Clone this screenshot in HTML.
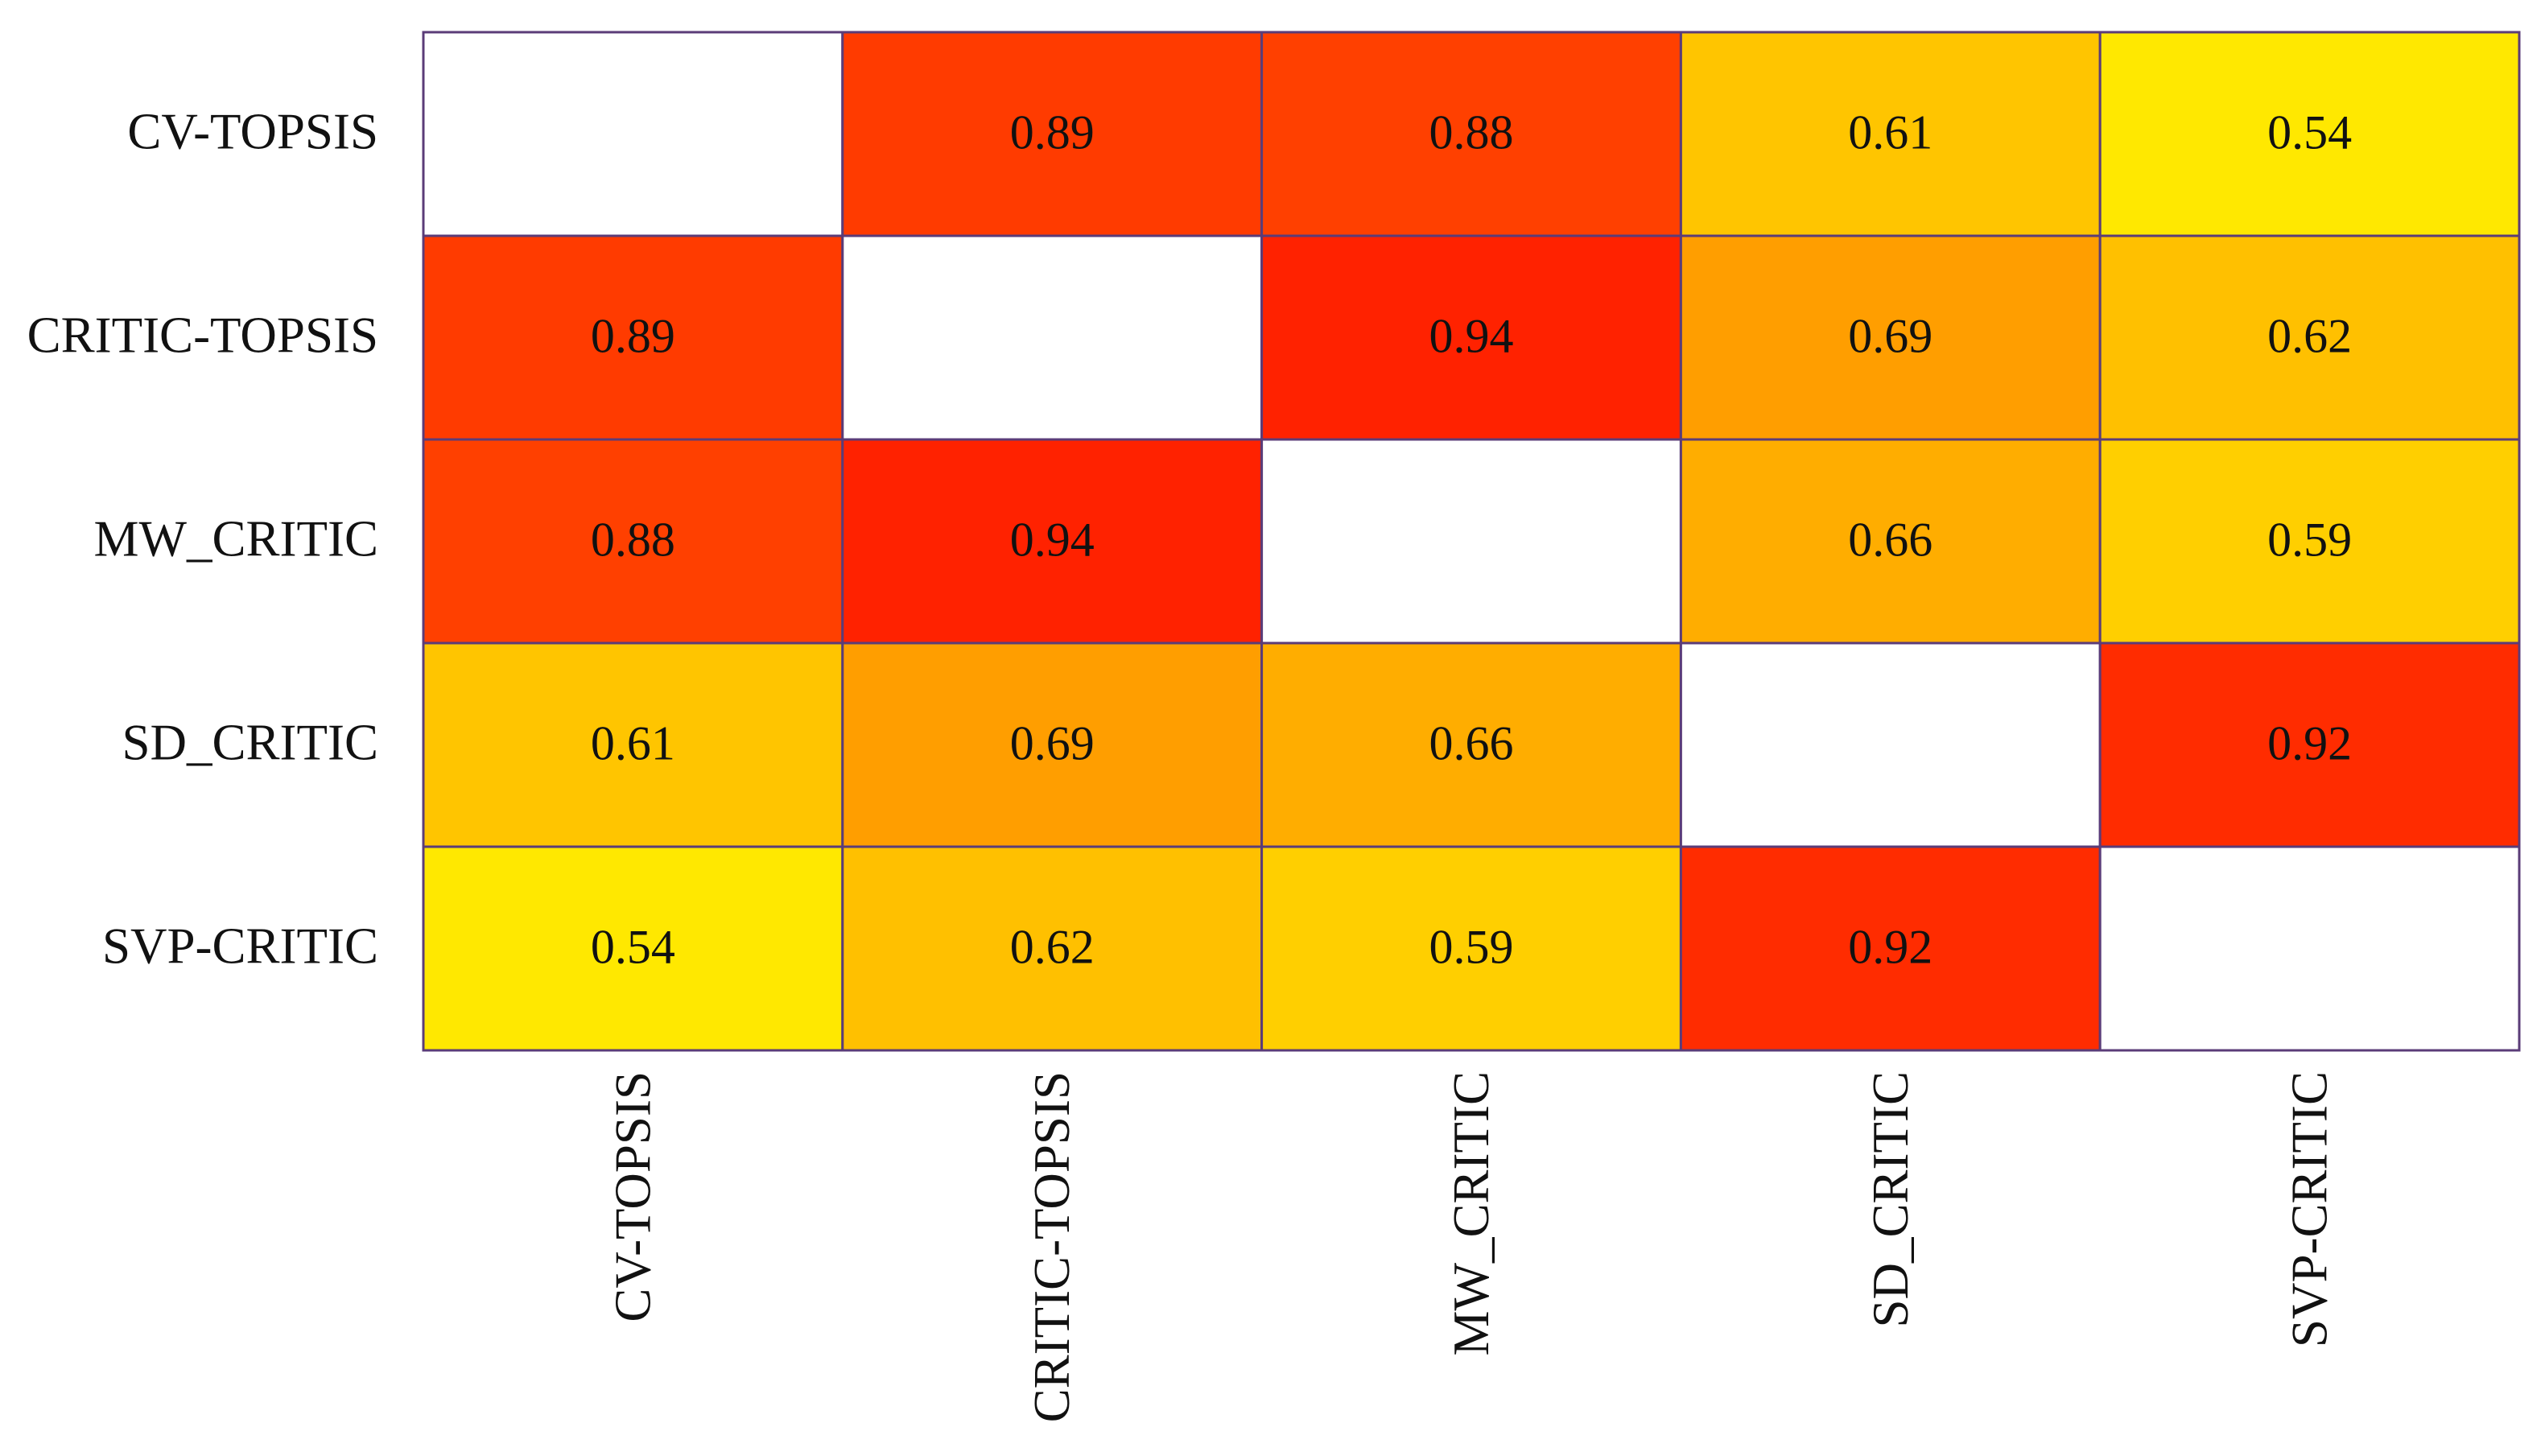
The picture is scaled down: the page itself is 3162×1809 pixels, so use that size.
<!DOCTYPE html>
<html><head><meta charset="utf-8"><style>
html,body{margin:0;padding:0;background:#fff;}
svg{display:block;}
text{font-family:"Liberation Serif",serif;fill:#111;}
</style></head><body>
<svg id="chart" width="3162" height="1809" viewBox="0 0 3162 1809"></svg>
<script>
const rowLabels = ["CV-TOPSIS","CRITIC-TOPSIS","MW_CRITIC","SD_CRITIC","SVP-CRITIC"];
const colLabels = ["CV-TOPSIS","CRITIC-TOPSIS","MW_CRITIC","SD_CRITIC","SVP-CRITIC"];
const row0 = [null,0.89,0.88,0.61,0.54];
const row1 = [0.89,null,0.94,0.69,0.62];
const row2 = [0.88,0.94,null,0.66,0.59];
const row3 = [0.61,0.69,0.66,null,0.92];
const row4 = [0.54,0.62,0.59,0.92,null];
const values = [row0,row1,row2,row3,row4];

const svg = document.getElementById('chart');
const NS = 'http://www.w3.org/2000/svg';
const L = 526, R = 3130, T = 40, B = 1305;
const cw = (R - L) / colLabels.length, ch = (B - T) / rowLabels.length;
function xPos(i){ return L + i * cw; }
function yPos(j){ return T + j * ch; }
function color(v){
  let t = (v - 0.54) / 0.40; t = Math.max(0, Math.min(1, t));
  const g = Math.round(232 * (1 - t) + 34 * t);
  return 'rgb(255,' + g + ',0)';
}
function mk(tag, attrs){ const e = document.createElementNS(NS, tag); for (const k in attrs) e.setAttribute(k, attrs[k]); svg.appendChild(e); return e; }

values.forEach((row, j) => {
  row.forEach((v, i) => {
    const r = mk('rect', {x: xPos(i), y: yPos(j), width: cw, height: ch, fill: v === null ? '#ffffff' : color(v), stroke: '#5b3c78', 'stroke-width': 3});
    
    
    if (v !== null) {
      const t = mk('text', {x: xPos(i) + cw / 2, y: yPos(j) + ch / 2 + 18, 'font-size': 60, 'text-anchor': 'middle'});
      t.textContent = v.toFixed(2);
      
      
    }
  });
});
rowLabels.forEach((lab, j) => {
  const t = mk('text', {x: 470, y: yPos(j) + ch / 2 + 18, 'font-size': 63, 'text-anchor': 'end'});
  t.textContent = lab;
  
  
});
colLabels.forEach((lab, i) => {
  const cx = xPos(i) + cw / 2 + 21, cy = 1331;
  const t = mk('text', {x: cx, y: cy, 'font-size': 63, 'text-anchor': 'end', transform: 'rotate(-90 ' + cx + ' ' + cy + ')'});
  t.textContent = lab;
  
  
});
</script>
</body></html>
